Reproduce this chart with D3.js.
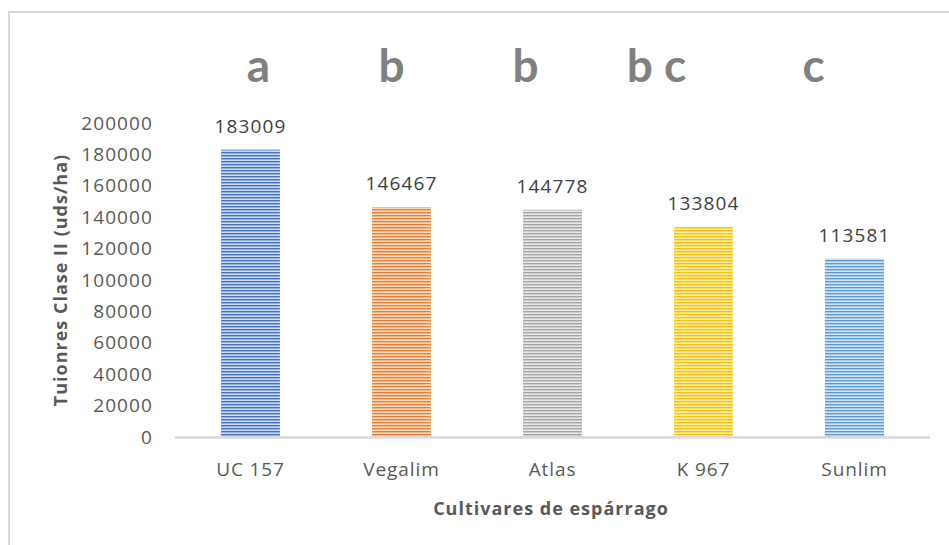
<!DOCTYPE html>
<html>
<head>
<meta charset="utf-8">
<script src="https://cdn.jsdelivr.net/npm/d3@7"></script>
<style>
  html, body { margin: 0; padding: 0; background: #fff; }
  svg { display: block; font-family: "Open Sans", Lato, sans-serif; }
</style>
</head>
<body>
<svg id="chart" width="949" height="545"></svg>
<script>
// Cultivars and their class II spear yield (units/ha)
const cultivars = ["UC 157", "Vegalim", "Atlas", "K 967", "Sunlim"];
const yields = [183009, 146467, 144778, 133804, 113581];
const groups = ["a", "b", "b", "b c", "c"];
const barColors = ["#4472C4", "#ED7D31", "#A5A5A5", "#FFC000", "#5B9BD5"];
const yTicks = [0, 20000, 40000, 60000, 80000, 100000, 120000, 140000, 160000, 180000, 200000];

const W = 949, H = 545;
const plot = { left: 175, right: 930, top: 123, bottom: 437 };
// horizontal nudges of the significance letters relative to each bar centre
const letterShift = [8, -10, -27, -47, -41];

const svg = d3.select("#chart");

// chart frame (only top and left edges fall inside the view)
svg.append("path")
  .attr("d", `M9,${H} V12 H${W}`)
  .attr("fill", "none")
  .attr("stroke", "#d9d9d9")
  .attr("stroke-width", 2);

const x = d3.scaleBand().domain(cultivars).range([plot.left, plot.right]).paddingInner(0.61).paddingOuter(0.305);
const y = d3.scaleLinear().domain([0, 200000]).range([plot.bottom, plot.top]);

// striped fills, one per bar colour
const defs = svg.append("defs");
barColors.forEach((c, i) => {
  const light = d3.interpolateRgb(c, "#ffffff")(0.72);
  const mid = d3.interpolateRgb(c, "#ffffff")(0.35);
  const p = defs.append("pattern")
    .attr("id", "stripe" + i)
    .attr("patternUnits", "userSpaceOnUse")
    .attr("width", 8).attr("height", 3)
    .attr("y", plot.bottom);
  p.append("rect").attr("width", 8).attr("height", 3).attr("fill", light);
  p.append("rect").attr("width", 8).attr("height", 1.2).attr("fill", c);
  p.append("rect").attr("y", 1.2).attr("width", 8).attr("height", 0.6).attr("fill", mid);
});

const numFont = sel => sel
  .style("font-family", "'Open Sans', Lato, sans-serif")
  .style("font-size", "19px")
  .style("letter-spacing", "1.1px");

// y axis tick labels (no axis line)
const yAxis = d3.axisLeft(y).tickValues(yTicks).tickSize(0).tickPadding(0).tickFormat(d3.format("d"));
const gy = svg.append("g").attr("transform", `translate(153,0)`).call(yAxis);
gy.select(".domain").remove();
gy.selectAll("text").attr("fill", "#595959").call(numFont);

// bars
const data = cultivars.map((c, i) => ({ c, v: yields[i], i }));
svg.append("g").selectAll("rect").data(data).join("rect")
  .attr("x", d => x(d.c))
  .attr("y", d => y(d.v))
  .attr("width", x.bandwidth())
  .attr("height", d => y(0) - y(d.v))
  .attr("fill", d => `url(#stripe${d.i})`);

// x axis line and category labels
const xAxis = d3.axisBottom(x).tickSize(0).tickPadding(26);
const gx = svg.append("g").attr("transform", `translate(0,${plot.bottom})`).call(xAxis);
gx.select(".domain").attr("stroke", "#d9d9d9").attr("stroke-width", 2.5)
  .attr("d", `M${plot.left},0.5H${plot.right}`);
gx.selectAll("text").attr("fill", "#595959").call(numFont).style("letter-spacing", "0.9px");

// value labels
svg.append("g").selectAll("text").data(data).join("text")
  .attr("x", d => x(d.c) + x.bandwidth() / 2)
  .attr("y", d => y(d.v) - 17)
  .attr("text-anchor", "middle")
  .attr("fill", "#404040")
  .call(numFont)
  .text(d => d.v);

// significance letters
svg.append("g").selectAll("text").data(data).join("text")
  .attr("x", d => x(d.c) + x.bandwidth() / 2 + letterShift[d.i])
  .attr("y", 82)
  .attr("text-anchor", "middle")
  .attr("fill", "#808080")
  .attr("font-weight", "bold")
  .style("font-family", "Lato, 'Open Sans', sans-serif")
  .style("font-size", "46px")
  .text(d => groups[d.i]);

// axis titles
svg.append("text")
  .attr("transform", `translate(67,${(plot.top + plot.bottom) / 2}) rotate(-90)`)
  .attr("text-anchor", "middle")
  .attr("fill", "#595959")
  .attr("font-weight", "bold")
  .style("font-size", "18px")
  .style("letter-spacing", "1px")
  .text("Tuionres Clase II (uds/ha)");

svg.append("text")
  .attr("x", 551)
  .attr("y", 515)
  .attr("text-anchor", "middle")
  .attr("fill", "#595959")
  .attr("font-weight", "bold")
  .style("font-size", "18px")
  .style("letter-spacing", "1px")
  .text("Cultivares de espárrago");
</script>
</body>
</html>
